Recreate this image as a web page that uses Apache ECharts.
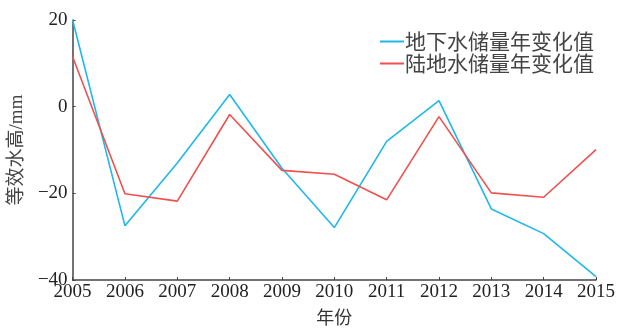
<!DOCTYPE html>
<html>
<head>
<meta charset="utf-8">
<script src="https://cdn.jsdelivr.net/npm/echarts@6/dist/echarts.min.js"></script>
<style>
  html, body { margin: 0; padding: 0; background: #fff; }
  #chart { width: 618px; height: 331px; }
</style>
</head>
<body>
<div id="chart"></div>
<script>
// Years on the horizontal axis
const years = ['2005', '2006', '2007', '2008', '2009', '2010', '2011', '2012', '2013', '2014', '2015'];
// Annual change in groundwater storage (mm equivalent water height)
const groundwater = [20.0, -27.5, -13.0, 2.8, -14.2, -27.9, -8.0, 1.4, -23.6, -29.3, -39.2];
// Annual change in terrestrial water storage (mm equivalent water height)
const terrestrial = [11.5, -20.1, -21.8, -1.8, -14.7, -15.6, -21.5, -2.3, -19.9, -20.9, -9.9];
// Value axis ticks
const yTicks = [-40, -20, 0, 20];

const seriesNames = ['地下水储量年变化值', '陆地水储量年变化值'];
const serif = '"Liberation Serif", "Noto Sans CJK SC", serif';
const cjk = '"Noto Sans CJK SC", sans-serif';
const axisColor = '#444';

const chart = echarts.init(document.getElementById('chart'), null, { renderer: 'canvas' });
chart.setOption({
  animation: false,
  backgroundColor: '#fff',
  grid: { left: 72, right: 21, top: 20, bottom: 46, containLabel: false },
  legend: {
    right: 19,
    top: 26,
    orient: 'vertical',
    itemWidth: 24,
    itemHeight: 2,
    itemGap: 1,
    icon: 'rect',
    textStyle: { fontFamily: cjk, fontSize: 21, color: '#444', padding: [0, 0, 0, -4] },
    data: seriesNames
  },
  xAxis: {
    type: 'category',
    data: years,
    boundaryGap: false,
    name: '年份',
    nameLocation: 'middle',
    nameGap: 28,
    nameTextStyle: { fontFamily: cjk, fontSize: 18, color: '#333' },
    axisLine: { onZero: false, lineStyle: { color: axisColor, width: 1.5 } },
    axisTick: { inside: true, length: 3, alignWithLabel: true, lineStyle: { color: axisColor } },
    axisLabel: { fontFamily: serif, fontSize: 19, color: '#222', margin: 3 }
  },
  yAxis: {
    type: 'value',
    min: yTicks[0],
    max: yTicks[yTicks.length - 1],
    interval: 20,
    name: '等效水高/mm',
    nameLocation: 'middle',
    nameGap: 41,
    nameRotate: 90,
    nameTextStyle: { fontFamily: serif, fontSize: 19, color: '#444' },
    splitLine: { show: false },
    axisLine: { show: true, lineStyle: { color: axisColor, width: 1.5 } },
    axisTick: { show: true, inside: true, length: 3, lineStyle: { color: axisColor } },
    axisLabel: {
      fontFamily: serif, fontSize: 19, color: '#222', margin: 5,
      formatter: v => String(v).replace('-', '\u2212')
    }
  },
  series: [
    {
      name: seriesNames[0],
      type: 'line',
      data: groundwater,
      symbol: 'none',
      lineStyle: { color: '#1fb8ea', width: 1.6 },
      itemStyle: { color: '#1fb8ea' }
    },
    {
      name: seriesNames[1],
      type: 'line',
      data: terrestrial,
      symbol: 'none',
      lineStyle: { color: '#f0504f', width: 1.6 },
      itemStyle: { color: '#f0504f' }
    }
  ]
});
</script>
</body>
</html>
